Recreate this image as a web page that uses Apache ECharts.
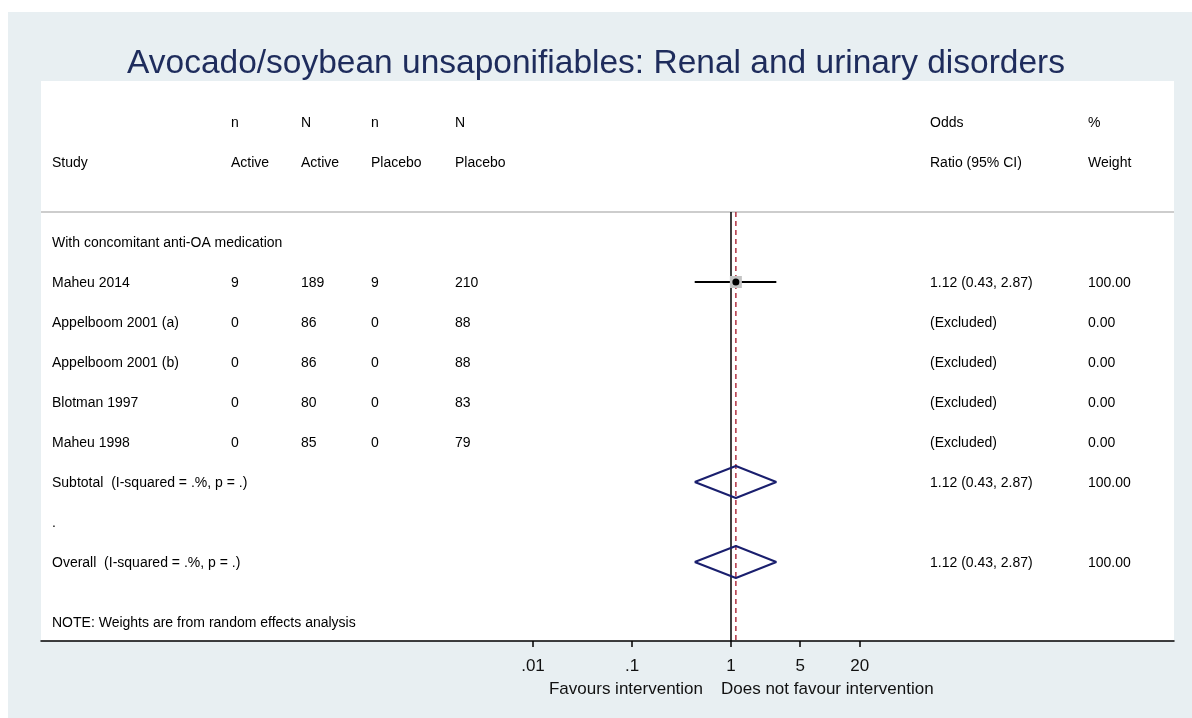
<!DOCTYPE html>
<html>
<head>
<meta charset="utf-8">
<script src="https://cdn.jsdelivr.net/npm/echarts@6/dist/echarts.min.js"></script>
<style>
  html,body{margin:0;padding:0;background:#fff;}
  #chart{width:1192px;height:718px;}
</style>
</head>
<body>
<div id="chart"></div>
<script>
// table rows (row index = text line, 40px apart)
var studies = ['Maheu 2014', 'Appelboom 2001 (a)', 'Appelboom 2001 (b)', 'Blotman 1997', 'Maheu 1998'];
var nActive = ['9', '0', '0', '0', '0'];
var NActive = ['189', '86', '86', '80', '85'];
var nPlacebo = ['9', '0', '0', '0', '0'];
var NPlacebo = ['210', '88', '88', '83', '79'];
var orText = ['1.12 (0.43, 2.87)', '(Excluded)', '(Excluded)', '(Excluded)', '(Excluded)'];
var weights = ['100.00', '0.00', '0.00', '0.00', '0.00'];

// estimates: [or, lo, hi] (null = excluded)
var studyEst = [[1.12, 0.43, 2.87], null, null, null, null];
var subtotalEst = [1.12, 0.43, 2.87];
var overallEst = [1.12, 0.43, 2.87];
var tickValues = [0.01, 0.1, 1, 5, 20];
var tickLabels = ['.01', '.1', '1', '5', '20'];

var font = 'Liberation Sans, Arial, sans-serif';
var lg = function(v){ return Math.log(v) / Math.LN10; };

var chart = echarts.init(document.getElementById('chart'));

var xMin = -6.97, xMax = 4.475;
var topRow = 2.25, botRow = 12.975;

function diamond(e, row){
  return [[lg(e[1]), row], [lg(e[0]), row - 0.4], [lg(e[2]), row], [lg(e[0]), row + 0.4], [lg(e[1]), row]];
}

var series = [];
// separator line under header
series.push({
  type: 'line', data: [[xMin, topRow], [xMax, topRow]], symbol: 'none', silent: true,
  lineStyle: {color: '#bdbdbd', width: 1.5}
});
// null line
series.push({
  type: 'line', data: [[0, topRow], [0, botRow]], symbol: 'none', silent: true,
  lineStyle: {color: '#000', width: 1.5}
});
// overall estimate line
series.push({
  type: 'line', data: [[lg(overallEst[0]), topRow], [lg(overallEst[0]), botRow]], symbol: 'none', silent: true,
  lineStyle: {color: '#b03040', width: 1.5, type: [5, 4]}
});
// study CIs and points
studyEst.forEach(function(e, i){
  if (!e) return;
  var row = 4 + i;
  series.push({
    type: 'line', data: [[lg(e[1]), row], [lg(e[2]), row]], symbol: 'none', silent: true,
    lineStyle: {color: '#000', width: 1.8}
  });
  series.push({
    type: 'scatter', data: [[lg(e[0]), row]], symbol: 'rect', symbolSize: 12, silent: true, z: 5,
    itemStyle: {color: '#c4c4c4', opacity: 1}
  });
  series.push({
    type: 'scatter', data: [[lg(e[0]), row]], symbol: 'circle', symbolSize: 7, silent: true, z: 6,
    itemStyle: {color: '#000', opacity: 1}
  });
});
// diamonds
[[subtotalEst, 9], [overallEst, 11]].forEach(function(d){
  series.push({
    type: 'line', data: diamond(d[0], d[1]), symbol: 'none', silent: true,
    lineStyle: {color: '#1a1f6e', width: 2}
  });
});

var option = {
  animation: false,
  backgroundColor: '#fff',
  textStyle: {fontFamily: font},
  title: {
    text: 'Avocado/soybean unsaponifiables: Renal and urinary disorders',
    left: 'center', top: 42,
    textStyle: {color: '#1e2c5c', fontSize: 33.5, fontWeight: 'normal', fontFamily: font}
  },
  grid: {left: 41, right: 18, top: 81, bottom: 77, backgroundColor: '#fff', show: true, borderWidth: 0},
  xAxis: {
    type: 'value', min: xMin, max: xMax,
    splitLine: {show: false},
    axisLine: {onZero: false, lineStyle: {color: '#000', width: 1.5}},
    axisTick: {customValues: tickValues.map(lg), length: 6, lineStyle: {color: '#000', width: 1.5}},
    axisLabel: {
      customValues: tickValues.map(lg), color: '#111', fontSize: 17, margin: 17,
      formatter: function(v){
        for (var i = 0; i < tickValues.length; i++) if (Math.abs(lg(tickValues[i]) - v) < 1e-6) return tickLabels[i];
        return '';
      }
    }
  },
  yAxis: {
    type: 'value', inverse: true, min: -1.025, max: botRow,
    show: false
  },
  series: series
};
chart.setOption(option);

// page background and table text
var gfx = [];
gfx.push({type: 'rect', z: -10, shape: {x: 8, y: 12, width: 1184, height: 706}, style: {fill: '#e8eff2'}});

var colX = [52, 231, 301, 371, 455, 930, 1088];
function ty(row){ return chart.convertToPixel({yAxisIndex: 0}, row); }
function txt(x, row, s){
  gfx.push({type: 'text', x: x, y: ty(row) + 1, z: 10,
    style: {text: s, fill: '#000', font: '14px ' + font, textVerticalAlign: 'middle', verticalAlign: 'middle'}});
}
var head1 = ['', 'n', 'N', 'n', 'N', 'Odds', '%'];
var head2 = ['Study', 'Active', 'Active', 'Placebo', 'Placebo', 'Ratio (95% CI)', 'Weight'];
head1.forEach(function(s, c){ if (s) txt(colX[c], 0, s); });
head2.forEach(function(s, c){ txt(colX[c], 1, s); });
txt(colX[0], 3, 'With concomitant anti-OA medication');
studies.forEach(function(s, i){
  var row = 4 + i;
  [s, nActive[i], NActive[i], nPlacebo[i], NPlacebo[i], orText[i], weights[i]].forEach(function(t, c){
    txt(colX[c], row, t);
  });
});
txt(colX[0], 9, 'Subtotal  (I-squared = .%, p = .)');
txt(colX[5], 9, '1.12 (0.43, 2.87)');
txt(colX[6], 9, '100.00');
txt(colX[0], 10, '.');
txt(colX[0], 11, 'Overall  (I-squared = .%, p = .)');
txt(colX[5], 11, '1.12 (0.43, 2.87)');
txt(colX[6], 11, '100.00');
txt(colX[0], 12.5, 'NOTE: Weights are from random effects analysis');

var x0 = chart.convertToPixel({xAxisIndex: 0}, 0);
gfx.push({type: 'text', x: x0 - 28, y: 689, z: 10,
  style: {text: 'Favours intervention', fill: '#111', font: '17px ' + font, align: 'right', textAlign: 'right', verticalAlign: 'middle', textVerticalAlign: 'middle'}});
gfx.push({type: 'text', x: x0 - 10, y: 689, z: 10,
  style: {text: 'Does not favour intervention', fill: '#111', font: '17px ' + font, verticalAlign: 'middle', textVerticalAlign: 'middle'}});

chart.setOption({graphic: gfx});
</script>
</body>
</html>
